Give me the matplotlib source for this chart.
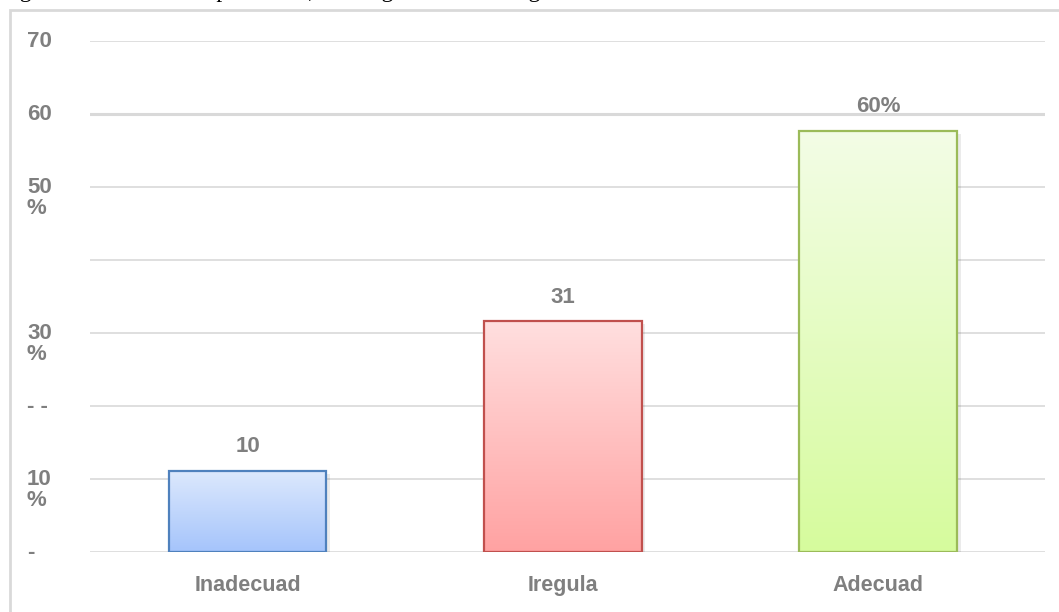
import numpy as np
import matplotlib.pyplot as plt
from matplotlib.patches import Rectangle
from matplotlib.colors import LinearSegmentedColormap

categories = ['Inadecuad', 'Iregula', 'Adecuad']
values = [11.1, 31.6, 57.7]
bar_labels = ['10', '31', '60%']
top_colors = ['#dde9fd', '#ffdfdf', '#f3fde6']
bottom_colors = ['#a5c4fb', '#ffa2a2', '#d6fb9d']
edge_colors = ['#4f81bd', '#c0504d', '#9bbb59']

yticks = [0, 10, 20, 30, 40, 50, 60, 70]
ytick_main = ['-', '10', '- -', '30', '', '50', '60', '70']
ytick_pct = ['', '%', '', '%', '', '%', '', '']

title = 'Figura 4. Variable independiente, estrategia de marketing'

gray = '#7f7f7f'
grid_gray = '#d9d9d9'
fs = 15.5

fig = plt.figure(figsize=(10.59, 6.12), dpi=100)
ax = fig.add_axes([0.085, 0.098, 0.902, 0.835])

# outer chart frame
fig.patches.append(Rectangle((10 / 1059, -0.05), 1.2, 1 - 10 / 612 + 0.05,
                             transform=fig.transFigure, fill=False,
                             edgecolor=grid_gray, linewidth=2))

fig.text(0.0, 1.014, title, family='Liberation Serif', fontsize=17,
         va='center', ha='left', color='black')

ax.set_xlim(-0.5, 2.53)
ax.set_ylim(0, 70)

for y in yticks:
    lw = 2.2 if y == 60 else 1.2
    ax.axhline(y, color=grid_gray, linewidth=lw, zorder=0)

width = 0.5
for i, v in enumerate(values):
    x0 = i - width / 2
    cmap = LinearSegmentedColormap.from_list('g%d' % i, [bottom_colors[i], top_colors[i]])
    grad = np.linspace(0, 1, 256).reshape(-1, 1)
    ax.imshow(grad, extent=[x0, x0 + width, 0, v], origin='lower', cmap=cmap,
              aspect='auto', zorder=2)
    # faint shadow
    ax.add_patch(Rectangle((x0 + 0.012, -0.4), width, v, facecolor='#000000',
                           alpha=0.08, edgecolor='none', zorder=1))
    ax.add_patch(Rectangle((x0, 0), width, v, fill=False,
                           edgecolor=edge_colors[i], linewidth=1.6, zorder=3))
    ax.text(i, v + 3.3, bar_labels[i], ha='center', va='center', color=gray,
            fontsize=16, fontweight='bold', family='Liberation Sans')

ax.set_aspect('auto')
ax.set_xticks([])
ax.set_yticks([])
for s in ax.spines.values():
    s.set_visible(False)

for y, m, p in zip(yticks, ytick_main, ytick_pct):
    ax.text(-0.70, y, m, ha='left', va='center', color=gray, fontsize=16,
            fontweight='bold', family='Liberation Sans')
    if p:
        ax.text(-0.70, y - 3.0, p, ha='left', va='center', color=gray,
                fontsize=16, fontweight='bold', family='Liberation Sans')

for i, c in enumerate(categories):
    ax.text(i, -4.6, c, ha='center', va='center', color=gray, fontsize=fs,
            fontweight='bold', family='Liberation Sans')

fig.savefig('out.png', dpi=100)
